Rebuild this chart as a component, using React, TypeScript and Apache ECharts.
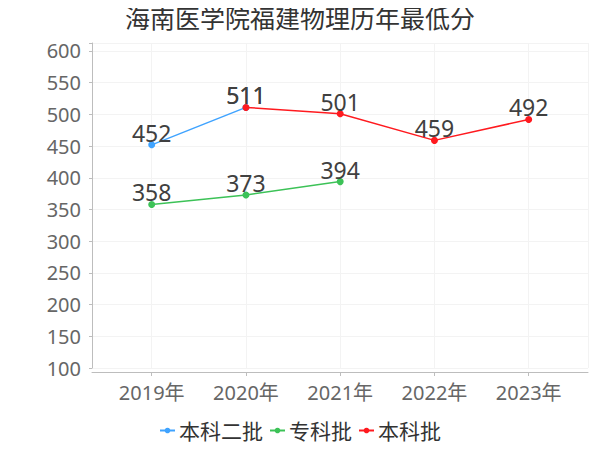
import React, { useEffect, useRef } from "react";
import * as echarts from "echarts";

const title = "海南医学院福建物理历年最低分";
const categories = ["2019年", "2020年", "2021年", "2022年", "2023年"];
const seriesNames = ["本科二批", "专科批", "本科批"];
const benke2 = [452, 511, null, null, null];
const zhuanke = [358, 373, 394, null, null];
const benke = [null, 511, 501, 459, 492];
const seriesColors = ["#3fa3ff", "#3cc257", "#ff1a1f"];
const yMin = 100;
const yMax = 612.6;
const yInterval = 50;

const FONT = "'Noto Sans', 'Noto Sans CJK SC', sans-serif";

export default function App() {
  const ref = useRef<HTMLDivElement>(null);
  useEffect(() => {
    if (!ref.current) return;
    const chart = echarts.init(ref.current, undefined, { renderer: "svg" });
    const seriesData = [benke2, zhuanke, benke];
    chart.setOption({
      animation: false,
      textStyle: { fontFamily: FONT },
      title: {
        text: title,
        left: "center",
        top: 0,
        textStyle: { fontSize: 25, fontWeight: "normal", color: "#333", fontFamily: FONT },
      },
      legend: {
        bottom: 4,
        left: "center",
        itemWidth: 15,
        itemHeight: 7,
        itemGap: 6,
        textStyle: { fontSize: 21, color: "#333", fontFamily: FONT, padding: [0, 0, 0, -1] },
        data: seriesNames,
      },
      grid: [
        { left: 92, right: 12, top: 43, bottom: 82 },
        { left: 151.7, right: 71.3, top: 43, bottom: 82 },
      ],
      xAxis: [
        {
          type: "value",
          gridIndex: 0,
          min: 0,
          max: 1,
          interval: 1,
          offset: 4,
          axisLine: { show: true, lineStyle: { color: "#bdbdbd" } },
          axisTick: { show: false },
          axisLabel: { show: false },
          splitLine: { show: true, lineStyle: { color: "#f3f3f3" } },
        },
        {
          type: "category",
          gridIndex: 1,
          data: categories,
          boundaryGap: false,
          offset: 4,
          axisLine: { show: false },
          axisTick: { show: true, length: 4, lineStyle: { color: "#bdbdbd" } },
          axisLabel: { fontSize: 20, color: "#666", margin: 10, fontFamily: FONT },
          splitLine: { show: true, lineStyle: { color: "#f3f3f3" } },
        },
      ],
      yAxis: [
        {
          type: "value",
          gridIndex: 0,
          min: yMin,
          max: yMax,
          interval: yInterval,
          offset: 3,
          axisLine: { show: true, lineStyle: { color: "#bdbdbd" } },
          axisTick: { show: true, length: 3, lineStyle: { color: "#bdbdbd" } },
          axisLabel: {
            fontSize: 20,
            color: "#666",
            margin: 8,
            fontFamily: FONT,
            formatter: (v: number) => (v % yInterval === 0 ? String(v) : ""),
          },
          splitLine: { show: true, lineStyle: { color: "#f3f3f3" } },
        },
        {
          type: "value",
          gridIndex: 1,
          min: yMin,
          max: yMax,
          show: false,
          splitLine: { show: false },
        },
      ],
      series: seriesNames.map((name, i) => ({
        name,
        type: "line",
        xAxisIndex: 1,
        yAxisIndex: 1,
        data: seriesData[i],
        symbol: "circle",
        symbolSize: 7,
        showSymbol: true,
        connectNulls: false,
        itemStyle: { color: seriesColors[i] },
        lineStyle: { color: seriesColors[i], width: 1.5 },
        label: {
          show: true,
          position: "top",
          distance: -3,
          fontSize: 23,
          color: "#404040",
          fontFamily: FONT,
        },
        z: i === 2 ? 3 : 2,
      })),
    });
    return () => chart.dispose();
  }, []);
  return <div ref={ref} style={{ width: 600, height: 450, margin: -8 }} />;
}
